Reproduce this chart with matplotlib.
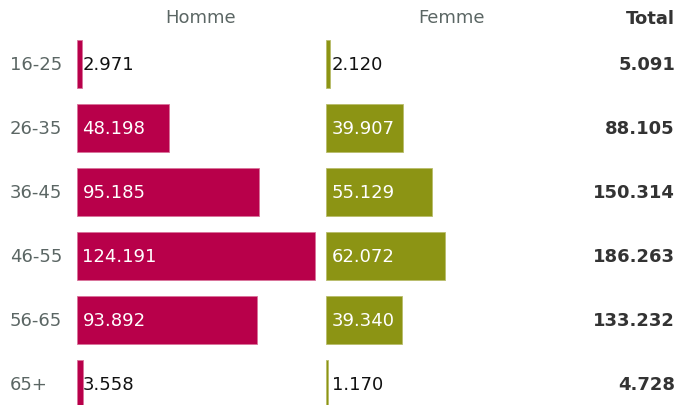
import matplotlib
matplotlib.use("Agg")
import matplotlib.pyplot as plt

plt.rcParams["font.family"] = ["DejaVu Sans"]

ages = ["16-25", "26-35", "36-45", "46-55", "56-65", "65+"]
homme = [2971, 48198, 95185, 124191, 93892, 3558]
femme = [2120, 39907, 55129, 62072, 39340, 1170]
totals = [5091, 88105, 150314, 186263, 133232, 4728]
headers = ["Homme", "Femme", "Total"]

W, H = 680, 405
PX_PER_UNIT = 1.92 / 1000.0
ROW = 64.0

def fmt(v):
    return f"{v:,}".replace(",", ".")

fig = plt.figure(figsize=(W / 100, H / 100), dpi=100)
fig.patch.set_facecolor("white")

c_h = "#b8004a"
c_f = "#8c9414"
e_h = "#d9729a"
e_f = "#b8bd6a"
grey = "#5b6664"
fs = 13

ymax = (H - ROW) / ROW
ylim = (ymax, -1.0)

def make_ax(left_px, width_px):
    ax = fig.add_axes([left_px / W, 0, width_px / W, 1])
    ax.set_xlim(0, width_px / PX_PER_UNIT)
    ax.set_ylim(*ylim)
    ax.axis("off")
    return ax

ax1 = make_ax(76.5, 245)
ax2 = make_ax(326, 245)

ys = list(range(len(ages)))
for ax, vals, col, ec in ((ax1, homme, c_h, e_h), (ax2, femme, c_f, e_f)):
    ax.barh(ys, vals, height=0.75, color=col, edgecolor=ec, linewidth=0.6)
    off = 6 / PX_PER_UNIT
    for y, v in zip(ys, vals):
        tc = "white" if v > 20000 else "#111111"
        ax.text(off, y - 1.2 / ROW, fmt(v), color=tc, fontsize=fs,
                va="center_baseline", ha="left")

# headers
ax1.text((201 - 76.5) / PX_PER_UNIT, -0.755, headers[0], color=grey, fontsize=fs,
         ha="center", va="center_baseline")
ax2.text((451 - 326) / PX_PER_UNIT, -0.755, headers[1], color=grey, fontsize=fs,
         ha="center", va="center_baseline")

def fig_y(row):
    return 1 - (ROW + ROW * row - 1) / H

fig.text(675 / W, 1 - 17.5 / H, headers[2], color="#333333", fontsize=fs,
         fontweight="bold", ha="right", va="center_baseline")
for i, (a, t) in enumerate(zip(ages, totals)):
    fig.text(10 / W, fig_y(i), a, color=grey, fontsize=fs, ha="left", va="center_baseline")
    fig.text(675 / W, fig_y(i), fmt(t), color="#333333", fontsize=fs,
             fontweight="bold", ha="right", va="center_baseline")

fig.savefig("out.png", dpi=100, facecolor="white")
